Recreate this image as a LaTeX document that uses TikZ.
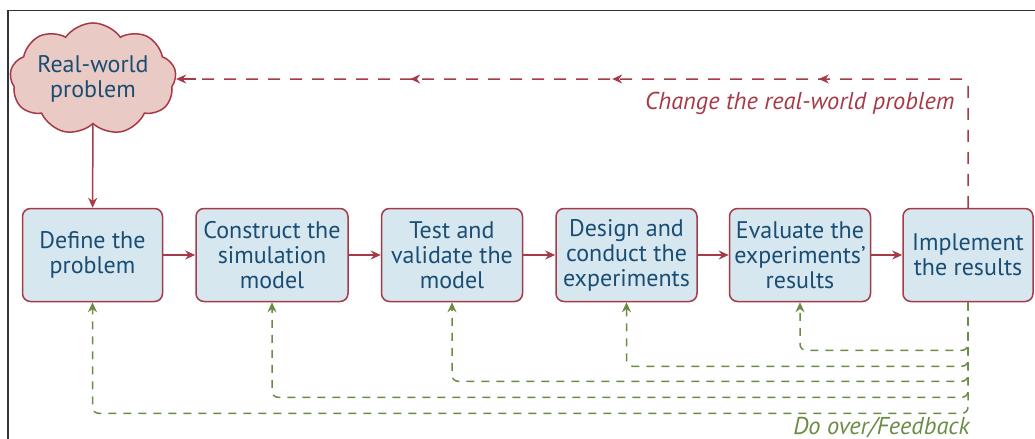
\documentclass[tikz,border=0pt]{standalone}
\usepackage{fontspec}
\setmainfont{PT Sans}
\usetikzlibrary{positioning, shapes.symbols, arrows.meta, decorations.markings}

\definecolor{boxblue}{HTML}{D7E7F0}
\definecolor{textblue}{HTML}{1A4D73}
\definecolor{linered}{HTML}{A63A47}
\definecolor{cloudpink}{HTML}{E9CAC4}
\definecolor{loopgreen}{HTML}{6B8C45}

\begin{document}
\begin{tikzpicture}[
    x=0.5pt, y=-0.5pt,
    node distance=16pt,
    stage/.style={
        rectangle, rounded corners=4pt, draw=linered, line width=0.75pt,
        fill=boxblue, minimum width=70.5pt, minimum height=46.5pt,
        inner sep=2pt, align=center, text=textblue,
        font=\fontsize{12}{12.5}\selectfont
    },
    problem/.style={
        cloud, cloud puffs=9, cloud puff arc=110, aspect=1.8,
        draw=linered, line width=0.75pt, fill=cloudpink,
        inner xsep=0.5pt, inner ysep=-4.5pt,
        align=center, text=textblue, font=\fontsize{12}{12.5}\selectfont
    },
    flow/.style={-{Stealth[length=5pt, width=4.5pt]}, draw=linered, line width=0.75pt},
    change/.style={draw=linered, line width=0.75pt, dash pattern=on 6pt off 5pt,
        rounded corners=3pt,
        decoration={markings,
            mark=at position 0.3 with {\arrow{Stealth[length=5pt, width=4.5pt]}},
            mark=at position 0.525 with {\arrow{Stealth[length=5pt, width=4.5pt]}},
            mark=at position 0.745 with {\arrow{Stealth[length=5pt, width=4.5pt]}}},
        postaction={decorate}},
    feedback/.style={-{Stealth[length=5pt, width=4.5pt]}, draw=loopgreen, line width=0.75pt,
        dash pattern=on 4pt off 3.5pt, rounded corners=3pt},
    note/.style={font=\fontsize{12.2}{13}\selectfont\itshape, inner sep=0pt}
]

\useasboundingbox (0,0) rectangle (1035,439);
\clip (0,0) rectangle (1035,439);

% 1. Frame (only its top and left edges fall inside the page)
\draw[line width=0.75pt, black!80] (8,10.5) rectangle (1100,500);

% 2. Starting problem
\node[problem] (realworld) at (93,79) {Real-world\\problem};

% 3. Stages (in a row, each relative to the previous one)
\node[stage, minimum width=70pt] (define) at (92.5,255) {Define the\\problem};
\node[stage, minimum width=76pt, right=of define] (construct) {Construct the\\simulation\\model};
\node[stage, right=of construct] (test) {Test and\\validate the\\model};
\node[stage, right=of test] (design) {Design and\\conduct the\\experiments};
\node[stage, right=15.5pt of design] (evaluate) {Evaluate the\\experiments'\\results};
\node[stage, minimum width=65pt, right=15.5pt of evaluate] (implement) {Implement\\the results};

% 4. Main flow
\draw[flow] (realworld) -- (define);
\draw[flow] (define) -- (construct);
\draw[flow] (construct) -- (test);
\draw[flow] (test) -- (design);
\draw[flow] (design) -- (evaluate);
\draw[flow] (evaluate) -- (implement);

% 5. Loop back to the real-world problem
\draw[change] (implement.north) |- (realworld.east);
\draw[-{Stealth[length=5pt, width=4.5pt]}, linered, line width=0.75pt]
    ([xshift=10pt]realworld.east) -- (realworld.east);
\node[note, text=linered, anchor=east] (changenote) at (955,103) {Change the real-world problem};

% 6. Feedback lines, one level lower for each earlier stage
\foreach \target/\drop in {evaluate/48, design/64, test/79, construct/95, define/111}
    \draw[feedback] (implement.south) -- ++(0,\drop) -| (\target.south);
\node[note, text=loopgreen, anchor=east] (feedbacknote) at (970,428) {Do over/Feedback};

\end{tikzpicture}
\end{document}
